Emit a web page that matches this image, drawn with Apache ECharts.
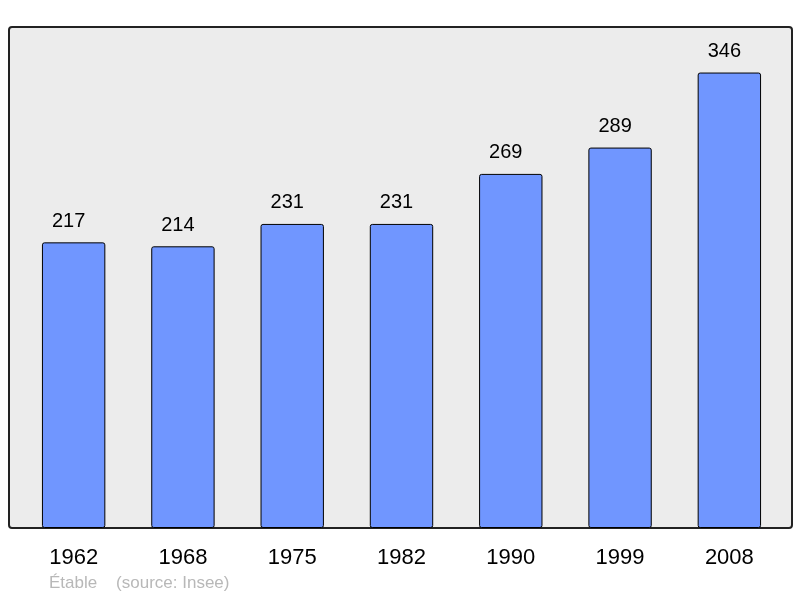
<!DOCTYPE html>
<html>
<head>
<meta charset="utf-8">
<script src="https://cdn.jsdelivr.net/npm/echarts@6/dist/echarts.min.js"></script>
<style>
  html, body { margin: 0; padding: 0; background: #fff; }
  #chart { width: 800px; height: 598px; }
</style>
</head>
<body>
<div id="chart"></div>
<script>
// population by census year
const years = ['1962', '1968', '1975', '1982', '1990', '1999', '2008']
const population = [217, 214, 231, 231, 269, 289, 346]
const place = 'Étable'
const source = '(source: Insee)'

const myChart = echarts.init(document.getElementById('chart'))
myChart.setOption({
  animation: false,
  textStyle: { fontFamily: 'Liberation Sans, Arial, sans-serif' },
  graphic: [
    {
      type: 'rect',
      z: -1,
      shape: { x: 9, y: 27, width: 783, height: 501, r: 3 },
      style: { fill: '#ececec', stroke: '#222', lineWidth: 2 }
    },
    {
      type: 'text',
      left: 49,
      top: 575,
      style: {
        text: place + '    ' + source,
        fill: '#b8b8b8',
        font: '17px Liberation Sans, Arial, sans-serif'
      }
    }
  ],
  grid: { left: 19, right: 16, top: 27, bottom: 70 },
  xAxis: {
    type: 'category',
    data: years,
    axisLine: { show: false },
    axisTick: { show: false },
    axisLabel: { color: '#000', fontSize: 22, margin: 19 }
  },
  yAxis: {
    type: 'value',
    min: 0,
    max: 380.6,
    show: false,
    splitLine: { show: false }
  },
  series: [
    {
      type: 'bar',
      data: population,
      barWidth: '58%',
      itemStyle: { color: '#7096ff', borderColor: '#000', borderWidth: 1, borderRadius: 2 },
      label: { show: true, position: 'top', distance: 11, offset: [-5, 0], color: '#000', fontSize: 20 }
    }
  ]
})
</script>
</body>
</html>
